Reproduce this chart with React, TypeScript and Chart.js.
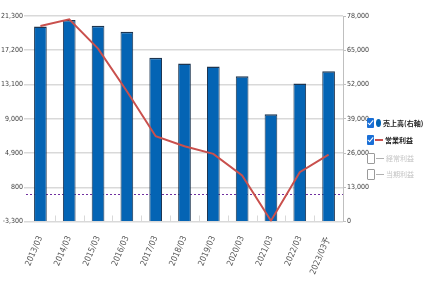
import React, { useEffect, useRef } from "react";
import { Chart, registerables } from "chart.js";

Chart.register(...registerables);

const categories = ["2013/03", "2014/03", "2015/03", "2016/03", "2017/03", "2018/03", "2019/03", "2020/03", "2021/03", "2022/03", "2023/03予"];
const salesValues = [74000, 76500, 74300, 72000, 62200, 60000, 58800, 55100, 40700, 52400, 57000];
const operatingProfit = [20100, 20900, 17400, 12300, 6900, 5700, 4800, 2200, -3200, 2600, 4700];
const leftTicks = [-3300, 800, 4900, 9000, 13100, 17200, 21300];
const rightTicks = [0, 13000, 26000, 39000, 52000, 65000, 78000];
const zeroLineValue = 0;

const AXIS_FONT = "'Liberation Sans Narrow', 'DejaVu Sans Condensed', 'Liberation Sans', sans-serif";
const CJK_FONT = "'Noto Sans CJK JP', 'Noto Sans', sans-serif";

const fmt = (v: number) => Number(v).toLocaleString("en-US");

const extrasPlugin = {
  id: "extras",
  beforeDatasetsDraw(chart: any) {
    const { ctx, chartArea } = chart;
    const y = chart.scales.y;
    ctx.save();
    ctx.strokeStyle = "#d9d9d9";
    ctx.lineWidth = 1;
    const n = categories.length;
    const w = (chartArea.right - chartArea.left) / n;
    for (let i = 1; i < n; i++) {
      const px = Math.round(chartArea.left + i * w) + 0.5;
      ctx.beginPath();
      ctx.moveTo(px, chartArea.bottom - 6);
      ctx.lineTo(px, chartArea.bottom);
      ctx.stroke();
    }
    const zy = Math.round(y.getPixelForValue(zeroLineValue)) + 0.5;
    ctx.strokeStyle = "#7030a0";
    ctx.setLineDash([2, 2]);
    ctx.beginPath();
    ctx.moveTo(chartArea.left, zy);
    ctx.lineTo(chartArea.right, zy);
    ctx.stroke();
    ctx.restore();
  },
};

function CheckBox({ checked }: { checked: boolean }) {
  if (checked) {
    return (
      <span style={{ position: "relative", display: "inline-block", width: 7, height: 10, background: "#1a6fd6", borderRadius: 1 }}>
        <span style={{ position: "absolute", left: 2, top: 1, width: 2, height: 5, borderRight: "1.5px solid #fff", borderBottom: "1.5px solid #fff", transform: "rotate(40deg)" }} />
      </span>
    );
  }
  return <span style={{ display: "inline-block", width: 6, height: 9, border: "1px solid #9a9a9a", borderRadius: 1, background: "#fff" }} />;
}

export default function App() {
  const ref = useRef<HTMLCanvasElement>(null);
  useEffect(() => {
    if (!ref.current) return;
    const chart = new Chart(ref.current, {
      type: "bar",
      data: {
        labels: categories,
        datasets: [
          {
            type: "line",
            label: "営業利益",
            data: operatingProfit,
            yAxisID: "y",
            borderColor: "#c9504d",
            borderWidth: 2,
            pointRadius: 0,
            tension: 0,
            order: 0,
          } as any,
          {
            type: "bar",
            label: "売上高(右軸)",
            data: salesValues,
            yAxisID: "y1",
            backgroundColor: "#0464b4",
            borderColor: "#1d3550",
            borderWidth: { top: 1.5, left: 1, right: 1, bottom: 0 },
            borderSkipped: "bottom",
            categoryPercentage: 1,
            barPercentage: 0.44,
            order: 1,
          } as any,
        ],
      },
      options: {
        responsive: false,
        animation: false,
        devicePixelRatio: 1,
        layout: { padding: { top: 16, left: 0, right: 0, bottom: 0 } },
        plugins: { legend: { display: false }, tooltip: { enabled: false } },
        scales: {
          x: {
            offset: true,
            grid: { display: false },
            border: { display: false },
            ticks: {
              autoSkip: false,
              minRotation: 67,
              maxRotation: 67,
              padding: 5,
              color: "#595959",
              font: { size: 8.5, family: AXIS_FONT },
            },
            afterFit: (s: any) => { s.height = 69.5; },
          },
          y: {
            position: "left",
            min: leftTicks[0],
            max: leftTicks[leftTicks.length - 1],
            afterBuildTicks: (s: any) => { s.ticks = leftTicks.map((v) => ({ value: v })); },
            ticks: { callback: (v: any) => fmt(v), color: "#404040", padding: 1, font: { size: 7, family: AXIS_FONT } },
            grid: { color: "#d9d9d9", lineWidth: 1.5, tickLength: 2 },
            border: { display: false },
            afterFit: (s: any) => { s.width = 26; },
          },
          y1: {
            position: "right",
            min: rightTicks[0],
            max: rightTicks[rightTicks.length - 1],
            afterBuildTicks: (s: any) => { s.ticks = rightTicks.map((v) => ({ value: v })); },
            ticks: { callback: (v: any) => fmt(v), color: "#404040", padding: 1, font: { size: 7, family: AXIS_FONT } },
            grid: { drawOnChartArea: false, color: "#bfbfbf", tickLength: 3 },
            border: { display: true, color: "#bfbfbf" },
            afterFit: (s: any) => { s.width = 84; },
          },
        },
      },
      plugins: [extrasPlugin],
    });
    return () => chart.destroy();
  }, []);

  const rowStyle: React.CSSProperties = { position: "absolute", left: 367, display: "flex", alignItems: "center", height: 12, fontFamily: CJK_FONT, fontSize: 7, whiteSpace: "nowrap" };
  return (
    <div style={{ position: "absolute", left: 0, top: 0, width: 427, height: 291, background: "#fff" }}>
      <canvas ref={ref} width={427} height={291} style={{ display: "block" }} />
      <div style={{ ...rowStyle, top: 117, color: "#222", fontWeight: 700 }}>
        <CheckBox checked />
        <span style={{ display: "inline-block", width: 5, height: 8, borderRadius: "50%", background: "#0464b4", marginLeft: 2, marginRight: 2 }} />
        <span>売上高(右軸)</span>
      </div>
      <div style={{ ...rowStyle, top: 134, color: "#222", fontWeight: 700 }}>
        <CheckBox checked />
        <span style={{ display: "inline-block", width: 8, height: 2, background: "#c9504d", marginLeft: 1, marginRight: 2 }} />
        <span>営業利益</span>
      </div>
      <div style={{ ...rowStyle, top: 152, color: "#c4c4c4" }}>
        <CheckBox checked={false} />
        <span style={{ display: "inline-block", width: 8, height: 1, background: "#b0b0b0", marginLeft: 1, marginRight: 2 }} />
        <span>経常利益</span>
      </div>
      <div style={{ ...rowStyle, top: 168, color: "#c4c4c4" }}>
        <CheckBox checked={false} />
        <span style={{ display: "inline-block", width: 8, height: 1, background: "#b0b0b0", marginLeft: 1, marginRight: 2 }} />
        <span>当期利益</span>
      </div>
    </div>
  );
}
